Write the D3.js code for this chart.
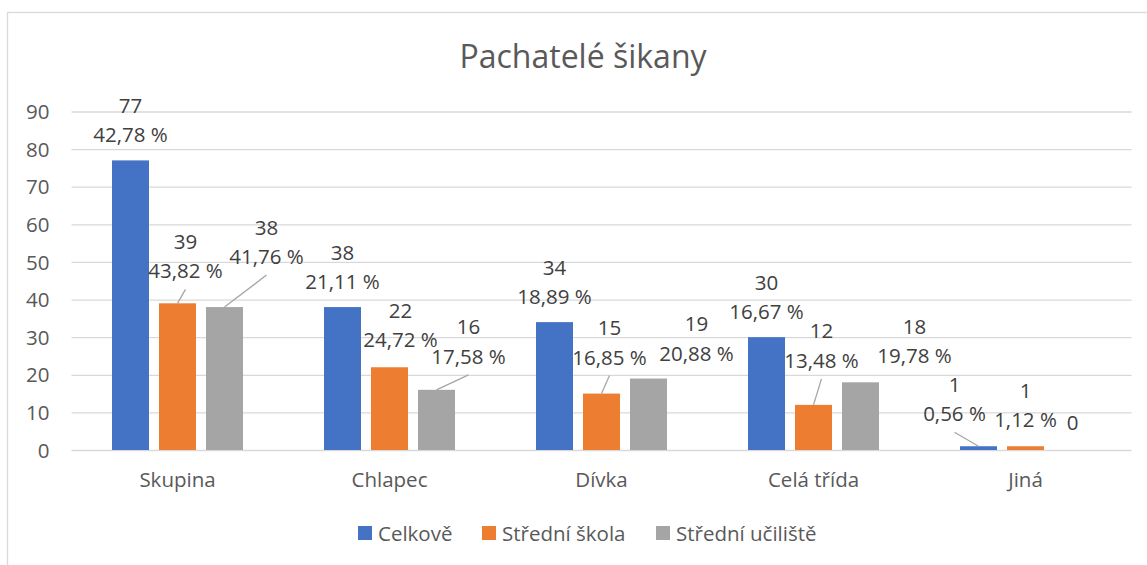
<!DOCTYPE html>
<html>
<head>
<meta charset="utf-8">
<script src="https://cdn.jsdelivr.net/npm/d3@7"></script>
<style>
  html, body { margin: 0; padding: 0; background: #fff; }
  svg text { font-family: "Open Sans", "Noto Sans", sans-serif; }
</style>
</head>
<body>
<div id="chart"></div>
<script>
/* ── Data ─────────────────────────────────────────────── */
const categories = ['Skupina', 'Chlapec', 'Dívka', 'Celá třída', 'Jiná'];
const seriesNames = ['Celkově', 'Střední škola', 'Střední učiliště'];
const celkove   = [77, 38, 34, 30, 1];
const stredniSkola = [39, 22, 15, 12, 1];
const stredniUciliste = [38, 16, 19, 18, 0];
const celkovePct = ['42,78 %', '21,11 %', '18,89 %', '16,67 %', '0,56 %'];
const stredniSkolaPct = ['43,82 %', '24,72 %', '16,85 %', '13,48 %', '1,12 %'];
const stredniUcilistePct = ['41,76 %', '17,58 %', '20,88 %', '19,78 %', null];
const yTicks = [0, 10, 20, 30, 40, 50, 60, 70, 80, 90];

// label nudges (px) as placed in the original, and which ones got a leader line
const labelShift = [
  [[0, 0], [0, 0], [0, 0], [0, 0], [-24, -7]],
  [[8, -7], [11, -2], [8, -11], [8, -19], [0, -1]],
  [[42, -25], [32, -8], [48, 0], [54, -1], [0, -2]]
];
const leaderOn = [
  [false, false, false, false, true],
  [true, false, true, true, false],
  [true, true, false, false, false]
];

const colors = ['#4472C4', '#ED7D31', '#A5A5A5'];
const fs = 20.5;

/* ── Layout ───────────────────────────────────────────── */
const width = 1147, height = 565;
const plot = { left: 71.5, right: 1131.5, top: 111.5, bottom: 450 };

const svg = d3.select('#chart').append('svg')
  .attr('width', width)
  .attr('height', height);

// chart area border (runs off the right / bottom edge)
svg.append('rect')
  .attr('x', 7.5).attr('y', 12.5)
  .attr('width', 1160).attr('height', 580)
  .attr('fill', 'none')
  .attr('stroke', '#d9d9d9')
  .attr('stroke-width', 1.3);

svg.append('text')
  .attr('x', 583).attr('y', 68)
  .attr('text-anchor', 'middle')
  .attr('font-size', 32)
  .attr('fill', '#595959')
  .text('Pachatelé šikany');

/* ── Scales ───────────────────────────────────────────── */
const x = d3.scaleBand()
  .domain(categories)
  .range([plot.left, plot.right])
  .padding(0);

const barW = 37, barGap = 10, step = barW + barGap;
const inner = barGap / step;
const outer = (x.bandwidth() / step - (seriesNames.length - inner)) / 2;
const xs = d3.scaleBand()
  .domain(seriesNames)
  .range([0, x.bandwidth()])
  .paddingInner(inner)
  .paddingOuter(outer);

const y = d3.scaleLinear()
  .domain([0, 90])
  .range([plot.bottom, plot.top]);

/* ── Gridlines + axes ─────────────────────────────────── */
svg.append('g')
  .attr('transform', `translate(${plot.left},0)`)
  .call(d3.axisLeft(y).tickValues(yTicks).tickSize(-(plot.right - plot.left)).tickFormat(''))
  .call(g => g.select('.domain').remove())
  .call(g => g.selectAll('.tick line').attr('stroke', '#d9d9d9').attr('stroke-width', 1.3));

svg.append('g')
  .attr('transform', `translate(${plot.left - 22},0)`)
  .call(d3.axisLeft(y).tickValues(yTicks).tickSize(0))
  .call(g => g.select('.domain').remove())
  .call(g => g.selectAll('.tick text')
    .attr('fill', '#595959')
    .attr('font-size', fs)
    .attr('x', 0)
    .attr('dy', '0.35em'));

svg.append('g')
  .attr('transform', `translate(0,${plot.bottom})`)
  .call(d3.axisBottom(x).tickSize(0))
  .call(g => g.select('.domain').remove())
  .call(g => g.selectAll('.tick text')
    .attr('fill', '#595959')
    .attr('font-size', fs)
    .attr('y', 37)
    .attr('dy', 0));

/* ── Bars ─────────────────────────────────────────────── */
const values = [celkove, stredniSkola, stredniUciliste];
const pcts = [celkovePct, stredniSkolaPct, stredniUcilistePct];

const points = [];
seriesNames.forEach((s, si) => {
  categories.forEach((c, ci) => {
    points.push({
      cat: c, series: s, si, ci,
      value: values[si][ci],
      pct: pcts[si][ci],
      shift: labelShift[si][ci],
      leader: leaderOn[si][ci]
    });
  });
});

svg.append('g').selectAll('rect')
  .data(points)
  .join('rect')
  .attr('x', d => x(d.cat) + xs(d.series))
  .attr('y', d => y(d.value))
  .attr('width', xs.bandwidth())
  .attr('height', d => y(0) - y(d.value))
  .attr('fill', d => colors[d.si]);

/* ── Data labels ──────────────────────────────────────── */
const cx = d => x(d.cat) + xs(d.series) + xs.bandwidth() / 2;
const labX = d => cx(d) + d.shift[0];
const labBase = d => y(d.value) - 18 + d.shift[1];

svg.append('g').selectAll('line')
  .data(points.filter(d => d.leader))
  .join('line')
  .attr('x1', cx)
  .attr('y1', d => y(d.value))
  .attr('x2', labX)
  .attr('y2', d => labBase(d) + 11)
  .attr('stroke', '#a6a6a6')
  .attr('stroke-width', 1.3);

const lab = svg.append('g').selectAll('text')
  .data(points)
  .join('text')
  .attr('text-anchor', 'middle')
  .attr('font-size', fs)
  .attr('fill', '#404040');

lab.append('tspan')
  .attr('x', labX)
  .attr('y', d => d.pct ? labBase(d) - 29.5 : labBase(d))
  .text(d => d.value);

lab.filter(d => d.pct).append('tspan')
  .attr('x', labX)
  .attr('y', labBase)
  .text(d => d.pct);

/* ── Legend ───────────────────────────────────────────── */
const legendX = [358, 482, 656];
const legend = svg.append('g').selectAll('g')
  .data(seriesNames)
  .join('g')
  .attr('transform', (d, i) => `translate(${legendX[i]},526)`);

legend.append('rect')
  .attr('width', 14).attr('height', 14)
  .attr('fill', (d, i) => colors[i]);

legend.append('text')
  .attr('x', 20).attr('y', 14.5)
  .attr('font-size', fs)
  .attr('fill', '#595959')
  .text(d => d);
</script>
</body>
</html>
